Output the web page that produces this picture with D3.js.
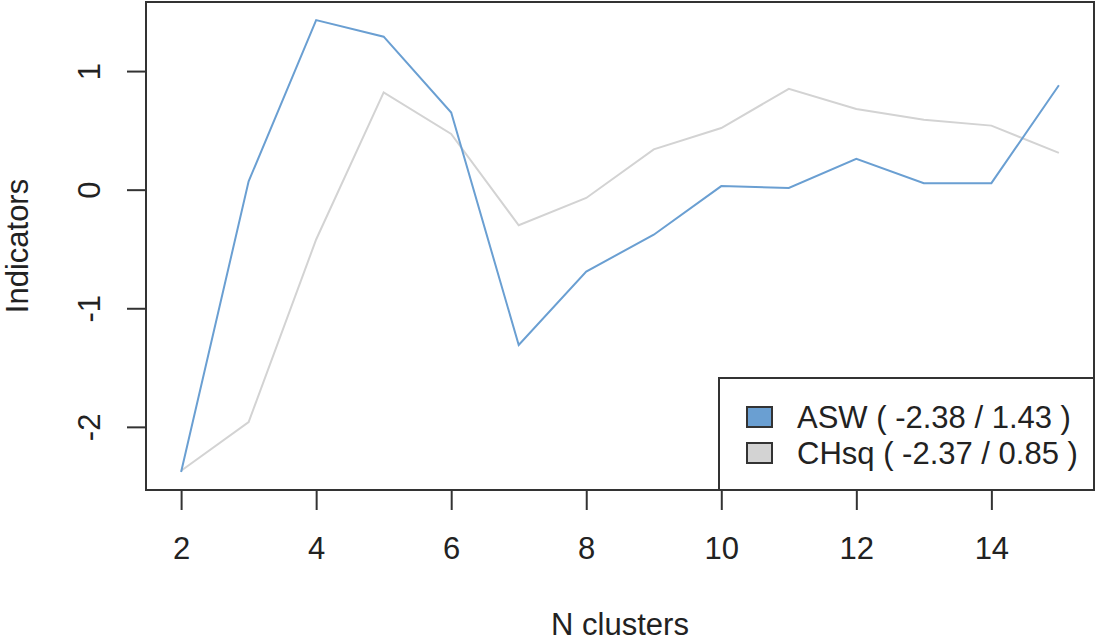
<!DOCTYPE html>
<html lang="en">
<head>
<meta charset="utf-8">
<script src="https://d3js.org/d3.v7.min.js"></script>
<style>
  body { margin: 0; background: #fff; }
  text { font-family: "Liberation Sans", Arial, sans-serif; fill: #222; }
</style>
</head>
<body>
<svg id="chart" width="1095" height="641"></svg>
<script>
// cluster counts and the two standardised indicators
const clusters = [2, 3, 4, 5, 6, 7, 8, 9, 10, 11, 12, 13, 14, 15];
const asw  = [-2.38, 0.07, 1.43, 1.29, 0.65, -1.31, -0.69, -0.38, 0.03, 0.015, 0.26, 0.055, 0.055, 0.88];
const chsq = [-2.37, -1.96, -0.42, 0.82, 0.47, -0.30, -0.07, 0.34, 0.52, 0.85, 0.68, 0.59, 0.54, 0.31];
const xTicks = [2, 4, 6, 8, 10, 12, 14];
const yTicks = [-2, -1, 0, 1];
const legendLabels = ["ASW ( -2.38 / 1.43 )", "CHsq ( -2.37 / 0.85 )"];
const colors = ["#6a9fd2", "#d3d3d3"];

const svg = d3.select("#chart");
const pL = 146, pR = 1094, pT = 2, pB = 490;
const fs = 31;

// R style: extend the data range by 4% on each side
const xr = d3.extent(clusters), xpad = (xr[1] - xr[0]) * 0.04;
const allY = asw.concat(chsq);
const yr = d3.extent(allY), ypad = (yr[1] - yr[0]) * 0.04;

const x = d3.scaleLinear().domain([xr[0] - xpad, xr[1] + xpad]).range([pL, pR]);
const y = d3.scaleLinear().domain([yr[0] - ypad, yr[1] + ypad]).range([pB, pT]);

// series
const line = d3.line().x((d, i) => x(clusters[i])).y(d => y(d));
[chsq, asw].forEach((s, k) => {
  svg.append("path")
    .attr("d", line(s))
    .attr("fill", "none")
    .attr("stroke", k == 0 ? colors[1] : colors[0])
    .attr("stroke-width", 2);
});

// x axis
const xAxis = svg.append("g").attr("transform", `translate(0,${pB})`)
  .call(d3.axisBottom(x).tickValues(xTicks).tickSize(20).tickPadding(0).tickSizeOuter(0));
xAxis.select(".domain").attr("d", `M${x(xTicks[0])},0H${x(xTicks[xTicks.length - 1])}`);
xAxis.selectAll("text").attr("font-size", fs).attr("dy", null).attr("y", 69)
  .style("font-family", "'Liberation Sans', Arial, sans-serif").attr("fill", "#222");

// y axis (plain hyphen for negatives, like R)
const yAxis = svg.append("g").attr("transform", `translate(${pL},0)`)
  .call(d3.axisLeft(y).tickValues(yTicks).tickSize(19).tickFormat(d => String(d)).tickSizeOuter(0));
yAxis.select(".domain").attr("d", `M0,${y(yTicks[0])}V${y(yTicks[yTicks.length - 1])}`);
yAxis.selectAll("text")
  .attr("font-size", fs).attr("x", null).attr("dy", null)
  .attr("text-anchor", "middle")
  .attr("transform", "translate(-46,0) rotate(-90)")
  .style("font-family", "'Liberation Sans', Arial, sans-serif").attr("fill", "#222");
svg.selectAll(".tick line, .domain").attr("stroke", "#333").attr("stroke-width", 2);

// frame
svg.append("rect")
  .attr("x", pL).attr("y", pT)
  .attr("width", pR - pL).attr("height", pB - pT)
  .attr("fill", "none").attr("stroke", "#333").attr("stroke-width", 2);

// titles
svg.append("text").attr("x", (pL + pR) / 2).attr("y", 635)
  .attr("text-anchor", "middle").attr("font-size", fs).text("N clusters");
svg.append("text")
  .attr("transform", `translate(28,${(pT + pB) / 2}) rotate(-90)`)
  .attr("text-anchor", "middle").attr("font-size", fs).text("Indicators");

// legend, bottom right inside the frame
const lg = svg.append("g");
lg.append("rect").attr("x", 719).attr("y", 378)
  .attr("width", pR - 719).attr("height", pB - 378)
  .attr("fill", "#fff").attr("stroke", "#333").attr("stroke-width", 2);
legendLabels.forEach((t, i) => {
  lg.append("rect").attr("x", 747).attr("y", 407 + i * 36)
    .attr("width", 25).attr("height", 20)
    .attr("fill", colors[i]).attr("stroke", "#333").attr("stroke-width", 2);
  lg.append("text").attr("x", 797).attr("y", 428 + i * 36)
    .attr("font-size", fs).text(t);
});
</script>
</body>
</html>
